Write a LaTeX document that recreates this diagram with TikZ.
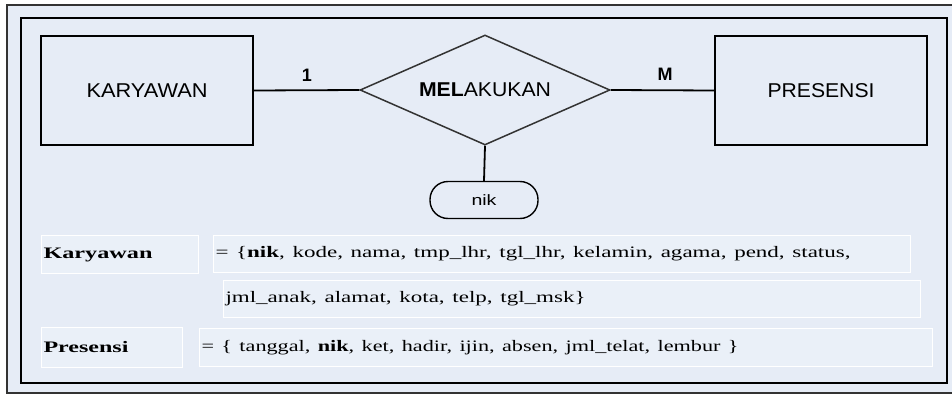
\documentclass[tikz,border=0pt]{standalone}
\usepackage{fontspec}
\setmainfont{Liberation Serif}
\newfontfamily\arialf{Liberation Sans}
\usepackage{graphicx}
\usetikzlibrary{shapes.geometric}
\definecolor{bgc}{HTML}{E6ECF6}
\definecolor{boxc}{HTML}{EAF0F8}
\definecolor{framec}{HTML}{333333}
\newcommand{\sw}[2]{\resizebox{#1pt}{\height}{#2}}
\begin{document}
\begin{tikzpicture}[x=1pt,y=-1pt,
  ent/.style={draw=black,line width=1.8pt,fill=bgc,minimum width=212pt,minimum height=109pt,inner sep=0pt,font=\arialf\fontsize{20}{22}\selectfont},
  rel/.style={draw=framec,line width=1.5pt,fill=bgc,diamond,aspect=2.27,minimum width=250pt,minimum height=110pt,inner sep=0pt,font=\arialf\fontsize{20}{22}\selectfont},
  attr/.style={draw=black,line width=1.4pt,fill=bgc,rounded corners=18pt,minimum width=108pt,minimum height=37pt,inner sep=0pt,font=\arialf\fontsize{15}{17}\selectfont},
  card/.style={font=\arialf\bfseries\fontsize{18}{20}\selectfont,inner sep=0pt},
  tbox/.style={draw=white,line width=1pt,fill=boxc,anchor=north west,inner xsep=2pt,inner ysep=0pt,align=left,font=\fontsize{16}{18}\selectfont},
  conn/.style={draw=black,line width=1.8pt}
]
\useasboundingbox (0,0) rectangle (952,396);
\fill[white] (0,0) rectangle (952,396);
\draw[framec,line width=1.4pt,fill=bgc] (7,5) rectangle (960,393);
\draw[black,line width=1.8pt,fill=bgc] (21,18) rectangle (947,383);

\node[ent] (kar) at (147,90.5) {\sw{121}{KARYAWAN}};
\node[ent] (pre) at (821,90.5) {\sw{107}{PRESENSI}};
\node[rel] (mel) at (485,90) {\sw{132}{{\bfseries MEL}AKUKAN}};
\node[attr] (nik) at (484,200) {\sw{25}{nik}};

\draw[conn] (kar.east) -- (mel.west);
\draw[conn] (mel.east) -- (pre.west);
\draw[conn] (mel.south) -- (nik.north);

\node[card] (one) at (307,75) {1};
\node[card] (many) at (665,74) {M};

\node[tbox,text width=153pt,minimum height=38pt] (tk) at (41,235) {\sw{109}{\bfseries Karyawan}};
\node[tbox,text width=693pt,minimum height=37pt] (ak1) at (213,235) {\sw{635}{= \{{\bfseries nik}, kode, nama, tmp\_lhr, tgl\_lhr, kelamin, agama, pend, status,}};
\node[tbox,text width=693pt,minimum height=37pt] (ak2) at (223,280) {\sw{360}{jml\_anak, alamat, kota, telp, tgl\_msk\}}};
\node[tbox,text width=137pt,minimum height=40pt] (tp) at (41,327) {\sw{85}{\bfseries Presensi}};
\node[tbox,text width=729pt,minimum height=38pt] (ap) at (199,328) {\sw{537}{= \{ tanggal, {\bfseries nik}, ket, hadir, ijin, absen, jml\_telat, lembur \}}};
\end{tikzpicture}
\end{document}
